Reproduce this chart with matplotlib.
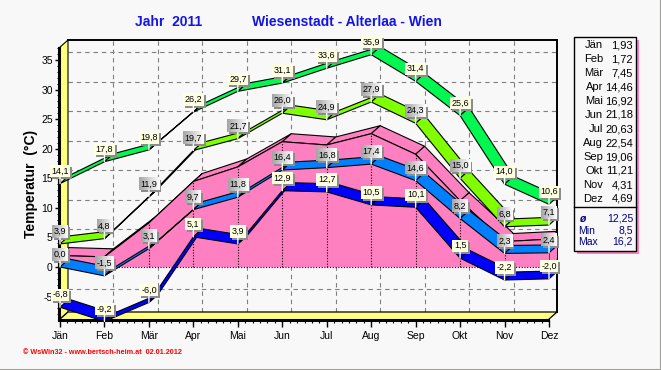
import numpy as np
import matplotlib
matplotlib.use('Agg')
import matplotlib.pyplot as plt
from matplotlib.patches import Polygon, Rectangle
from matplotlib.lines import Line2D
from matplotlib.colors import LinearSegmentedColormap

# ---------------- data ----------------
months = ["Jän", "Feb", "Mär", "Apr", "Mai", "Jun", "Jul", "Aug", "Sep", "Okt", "Nov", "Dez"]
abs_max = [14.1, 17.8, 19.8, 26.2, 29.7, 31.1, 33.6, 35.9, 31.4, 25.6, 14.0, 10.6]
mean_max = [3.9, 4.8, 11.9, 19.7, 21.7, 26.0, 24.9, 27.9, 24.3, 15.0, 6.8, 7.1]
mean_temp = [1.93, 1.72, 7.45, 14.46, 16.92, 21.18, 20.63, 22.54, 19.06, 11.21, 4.31, 4.69]
mean_min = [0.0, -1.5, 3.1, 9.7, 11.8, 16.4, 16.8, 17.4, 14.6, 8.2, 2.3, 2.4]
abs_min = [-6.8, -9.2, -6.0, 5.1, 3.9, 12.9, 12.7, 10.5, 10.1, 1.5, -2.2, -2.0]
stat_names = ["ø", "Min", "Max"]
stat_values = ["12,25", "8,5", "16,2"]
y_ticks = [-5, 0, 5, 10, 15, 20, 25, 30, 35]
title_left = "Jahr  2011"
title_right = "Wiesenstadt - Alterlaa - Wien"
y_title = "Temperatur  (°C)"
footer = "© WsWin32 - www.bertsch-heim.at  02.01.2012"

# ---------------- style ----------------
plt.rcParams['font.family'] = ['Liberation Sans', 'DejaVu Sans']
BG = '#F8F8F8'
C_ABSMAX = '#00F850'
C_MEANMAX = '#80FF00'
C_MEAN = '#FF80C0'
C_MEANMIN = '#0080FF'
C_ABSMIN = '#0000FF'
C_WALL = '#FFFF80'
GRID = '#808080'

W, H = 661, 370
fig = plt.figure(figsize=(W / 100, H / 100), dpi=100, facecolor=BG)

# geometry (pixel layout of the pseudo-3D box)
ppm = (549 - 60) / 11.0          # pixels per month
ppd = 207 / 35.0                 # pixels per degree
X0 = (59 - 60) / ppm
X1 = (557 - 60) / ppm
Y0 = (267 - 320) / ppd
Y1 = (267 - 40) / ppd
DX = 9 / ppm
DY = 8 / ppd

ax = fig.add_axes([59 / W, 1 - 320 / H, (557 - 59) / W, (320 - 40) / H])
ax.set_facecolor('none')
for s in ax.spines.values():
    s.set_visible(False)

# back plane + grid
ax.add_patch(Rectangle((X0 + DX, Y0 + DY), X1 - X0 - DX, Y1 - Y0 - DY, fc=BG, ec='none', zorder=0))
for v in y_ticks:
    ax.plot([X0 + DX, X1], [v + DY, v + DY], color=GRID, lw=0.8, ls=(0, (4, 3.5)), zorder=1)
for i in range(1, 11):
    ax.plot([i + DX, i + DX], [Y0 + DY, Y1], color=GRID, lw=0.8, ls=(0, (4, 3.5)), zorder=1)
ax.plot([X0 + DX, X1], [Y1, Y1], color='k', lw=1.4, zorder=2, clip_on=False)
ax.plot([X1, X1], [Y0 + DY, Y1], color='k', lw=1.4, zorder=2, clip_on=False)

# left wall
ax.add_patch(Polygon([(X0, Y0), (X0, Y1 - DY), (X0 + DX, Y1), (X0 + DX, Y0 + DY)],
                     closed=True, fc=C_WALL, ec='k', lw=0.8, zorder=2, clip_on=False))
ax.plot([X0, X0], [Y0, Y1 - DY], color='k', lw=2.2, zorder=2.1, clip_on=False)
# floor
ax.add_patch(Polygon([(X0, Y0), (X1 - DX, Y0), (X1, Y0 + DY), (X0 + DX, Y0 + DY)],
                     closed=True, fc=C_WALL, ec='k', lw=0.9, zorder=2, clip_on=False))
ax.plot([X0, X1 - DX], [Y0, Y0], color='k', lw=2.2, zorder=2.1, clip_on=False)

x = np.arange(len(months))

# mean temperature as 3D area
for i in range(len(x) - 1):
    ax.add_patch(Polygon([(x[i], mean_temp[i]), (x[i + 1], mean_temp[i + 1]),
                          (x[i + 1] + DX, mean_temp[i + 1] + DY), (x[i] + DX, mean_temp[i] + DY)],
                         closed=True, fc=C_MEAN, ec='k', lw=0.8, zorder=3))
ax.add_patch(Polygon([(x[-1], 0), (x[-1], mean_temp[-1]), (x[-1] + DX, mean_temp[-1] + DY), (x[-1] + DX, DY)],
                     closed=True, fc=C_MEAN, ec='k', lw=0.8, zorder=3))
front = [(x[0], 0)] + list(zip(x, mean_temp)) + [(x[-1], 0)]
ax.add_patch(Polygon(front, closed=True, fc=C_MEAN, ec='none', zorder=3.5))
ax.plot(x, mean_temp, color='k', lw=0.8, zorder=3.6)
for i in range(1, len(x) - 1):
    ax.plot([x[i], x[i]], [0, mean_temp[i]], color='k', lw=0.8, ls=(0, (1, 1.5)), zorder=3.6)
ax.plot([x[0], x[-1]], [0, 0], color='k', lw=0.8, ls=(0, (1, 1.5)), zorder=3.6)


def ribbon(vals, color, z):
    for i in range(len(vals) - 1):
        ax.add_patch(Polygon([(x[i], vals[i]), (x[i + 1], vals[i + 1]),
                              (x[i + 1] + DX, vals[i + 1] + DY), (x[i] + DX, vals[i] + DY)],
                             closed=True, fc=color, ec='k', lw=0.8, zorder=z + i * 0.01))


ribbon(abs_min, C_ABSMIN, 5)
ribbon(mean_min, C_MEANMIN, 5.2)
ribbon(mean_max, C_MEANMAX, 5.4)
ribbon(abs_max, C_ABSMAX, 5.6)

# data labels
labels = []
for vals, kind in [(abs_min, 'y'), (mean_min, 'g'), (mean_max, 'g'), (abs_max, 'y')]:
    for i, v in enumerate(vals):
        t = f"{v:.1f}".replace('.', ',')
        ann = ax.annotate(t, xy=(x[i], v), xytext=(0, 9), textcoords='offset points',
                          ha='center', va='center', fontsize=6.5, color='k', zorder=10,
                          bbox=dict(boxstyle='square,pad=0.18', fc='none', ec='none'),
                          arrowprops=dict(arrowstyle='-', color='white', lw=1.0, shrinkA=0, shrinkB=0),
                          annotation_clip=False)
        labels.append((ann, kind))

# axes ticks
ax.set_xlim(X0, X1)
ax.set_ylim(Y0, Y1)
ax.set_xticks(x, months)
ax.set_xticks(np.arange(0, 11.01, 1 / 6), minor=True)
ax.set_yticks(y_ticks, [str(v) for v in y_ticks])
ax.set_yticks(np.arange(-8, 38, 1), minor=True)
ax.tick_params(axis='x', which='major', length=5, width=1, direction='out', pad=3, labelsize=7.5)
ax.tick_params(axis='x', which='minor', length=2.5, width=0.8, direction='out')
ax.tick_params(axis='y', which='major', length=3, width=1, direction='out', pad=1.5, labelsize=7.5)
ax.tick_params(axis='y', which='minor', length=1.5, width=0.8, direction='out')

# label boxes (shadow + face / gradient)
fig.canvas.draw()
renderer = fig.canvas.get_renderer()
inv = ax.transData.inverted()
gcmap = LinearSegmentedColormap.from_list('gr', ['#A4A4A4', '#FFFFFF'])
grad = np.linspace(0, 1, 64).reshape(1, -1)
for ann, kind in labels:
    bb = ann.get_bbox_patch().get_window_extent(renderer)
    (xa, ya), (xb, yb) = inv.transform([[bb.x0, bb.y0], [bb.x1, bb.y1]])
    (xs, ys), (xt, yt) = inv.transform([[bb.x0 + 2, bb.y0 - 2], [bb.x1 + 2, bb.y1 - 2]])
    ax.add_patch(Rectangle((xs, ys), xt - xs, yt - ys, fc='#8C8C8C', ec='none', zorder=9.8, clip_on=False))
    if kind == 'y':
        ax.add_patch(Rectangle((xa, ya), xb - xa, yb - ya, fc='#FFFFE1', ec='none', zorder=9.9, clip_on=False))
    else:
        im = ax.imshow(grad, extent=(xa, xb, ya, yb), cmap=gcmap, aspect='auto',
                       interpolation='bilinear', zorder=9.9)
        im.set_clip_on(False)
ax.set_xlim(X0, X1)
ax.set_ylim(Y0, Y1)

# titles
fig.text(169 / W, 1 - 22 / H, title_left, color='#1414E6', fontsize=10, fontweight='bold', ha='center', va='center')
fig.text(347 / W, 1 - 22 / H, title_right, color='#1414E6', fontsize=10, fontweight='bold', ha='center', va='center')
fig.text(31 / W, 1 - 184 / H, y_title, rotation=90, fontsize=10, fontweight='bold', ha='center', va='center')
fig.text(23 / W, 1 - 352 / H, footer, color='#FF0000', fontsize=5.2, fontweight='bold', ha='left', va='center')

# right table
fig.add_artist(Rectangle((577 / W, 1 - 254 / H), (636 - 574) / W, (251 - 37) / H, transform=fig.transFigure,
                         fc=C_MEAN, ec='none'))
fig.add_artist(Rectangle((574 / W, 1 - 251 / H), (636 - 574) / W, (251 - 37) / H, transform=fig.transFigure,
                         fc=BG, ec='k', lw=1.0))
fig.add_artist(Line2D([574 / W, 636 / W], [1 - 207 / H, 1 - 207 / H], transform=fig.transFigure, color='k', lw=1.0))
for k, (m, v) in enumerate(zip(months, mean_temp)):
    yy = 1 - (45 + 14 * k) / H
    fig.text(603 / W, yy, m, fontsize=8, ha='right', va='center', color='k')
    fig.text(633 / W, yy, f"{v:.2f}".replace('.', ','), fontsize=8, ha='right', va='center', color='k')
for k, (n, v) in enumerate(zip(stat_names, stat_values)):
    yy = 1 - (219 + 11.5 * k) / H
    fig.text((580 if k == 0 else 578) / W, yy, n, fontsize=7.5, ha='left', va='center', color='#000080',
             fontweight='bold' if k == 0 else 'normal', style='italic' if k == 0 else 'normal')
    fig.text(633 / W, yy, v, fontsize=7.5, ha='right', va='center', color='#000080')

# outer border lines
fig.add_artist(Line2D([0, 1], [1 - 369.5 / H] * 2, transform=fig.transFigure, color='#A0A098', lw=1.5))
fig.add_artist(Line2D([660.5 / W] * 2, [0, 1], transform=fig.transFigure, color='#A0A098', lw=1.5))

fig.savefig('out.png', dpi=100, facecolor=BG)
